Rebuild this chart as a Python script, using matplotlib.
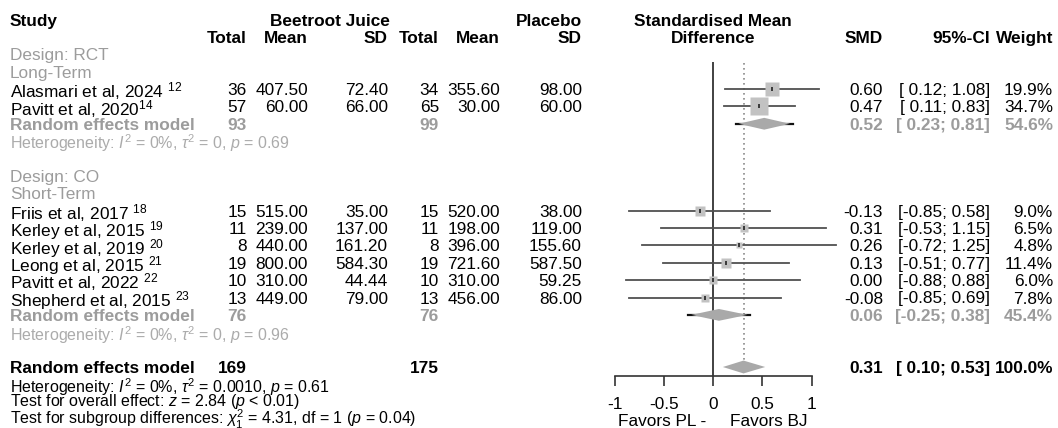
import matplotlib
matplotlib.use("Agg")
import matplotlib.pyplot as plt
from matplotlib.patches import Polygon
from matplotlib import transforms
import numpy as np

plt.rcParams['font.family'] = ['Liberation Sans', 'DejaVu Sans']
plt.rcParams['mathtext.fontset'] = 'custom'
plt.rcParams['mathtext.rm'] = 'Liberation Sans'
plt.rcParams['mathtext.it'] = 'Liberation Sans:italic'
plt.rcParams['mathtext.bf'] = 'Liberation Sans:bold'
plt.rcParams['axes.unicode_minus'] = False

# study data
studies = ["Alasmari et al, 2024 ${}^{12}$", "Pavitt et al, 2020${}^{14}$",
           "Friis et al, 2017 ${}^{18}$", "Kerley et al, 2015 ${}^{19}$",
           "Kerley et al, 2019 ${}^{20}$", "Leong et al, 2015 ${}^{21}$",
           "Pavitt et al, 2022 ${}^{22}$", "Shepherd et al, 2015 ${}^{23}$"]
group = [0, 0, 1, 1, 1, 1, 1, 1]
bj_n = [36, 57, 15, 11, 8, 19, 10, 13]
bj_mean = [407.50, 60.00, 515.00, 239.00, 440.00, 800.00, 310.00, 449.00]
bj_sd = [72.40, 66.00, 35.00, 137.00, 161.20, 584.30, 44.44, 79.00]
pl_n = [34, 65, 15, 11, 8, 19, 10, 13]
pl_mean = [355.60, 30.00, 520.00, 198.00, 396.00, 721.60, 310.00, 456.00]
pl_sd = [98.00, 60.00, 38.00, 119.00, 155.60, 587.50, 59.25, 86.00]
smd = [0.60, 0.47, -0.13, 0.31, 0.26, 0.13, 0.00, -0.08]
ci_lo = [0.12, 0.11, -0.85, -0.53, -0.72, -0.51, -0.88, -0.85]
ci_hi = [1.08, 0.83, 0.58, 1.15, 1.25, 0.77, 0.88, 0.69]
weight = [19.9, 34.7, 9.0, 6.5, 4.8, 11.4, 6.0, 7.8]

# subgroups
sub_design = ["Design: RCT", "Design: CO"]
sub_term = ["Long-Term", "Short-Term"]
sub_bj_n = [93, 76]
sub_pl_n = [99, 76]
sub_smd = [0.52, 0.06]
sub_lo = [0.23, -0.25]
sub_hi = [0.81, 0.38]
sub_w = [54.6, 45.4]
sub_het = ["0.69", "0.96"]

# overall
all_bj_n, all_pl_n = 169, 175
all_smd, all_lo, all_hi = 0.31, 0.10, 0.53
tick_vals = [-1, -0.5, 0, 0.5, 1]
tick_labels = ["-1", "-0.5", "0", "0.5", "1"]

W, H = 1058, 428
Y0, DY = 19.5, 17.375
GRAY = '#9c9c9c'
HGRAY = '#ababab'
FS, FS_SMALL = 12.4, 11.5


def ypx(r):
    return Y0 + DY * r


fig = plt.figure(figsize=(W / 100, H / 100), dpi=100)
tab = fig.add_axes([0, 0, 1, 1])
tab.set_xlim(0, W)
tab.set_ylim(H, 0)
tab.axis('off')

# forest panel
zero_px, unit = 713, 98.5
xmin, xmax = -1.25, 1.35
top_px, axis_px = 62, 376
r_top = (top_px - Y0) / DY
r_bot = (axis_px - Y0) / DY
ax = fig.add_axes([(zero_px + unit * xmin) / W, (H - axis_px) / H,
                   unit * (xmax - xmin) / W, (axis_px - top_px) / H])
ax.set_facecolor('none')
ax.set_xlim(xmin, xmax)
ax.set_ylim(r_bot, r_top)


def put(x, r, s, ha='right', size=FS, **kw):
    tab.text(x, ypx(r), s, ha=ha, va='center_baseline', fontsize=size, **kw)


cols = [247, 308, 388, 439, 500, 582, 883, 990, 1053]

# headers
put(10, 0, "Study", ha='left', weight='bold')
put(390, 0, "Beetroot Juice", weight='bold')
put(582, 0, "Placebo", weight='bold')
put(713, 0, "Standardised Mean", ha='center', weight='bold')
put(713, 1, "Difference", ha='center', weight='bold')
for x, s in zip(cols, ["Total", "Mean", "SD", "Total", "Mean", "SD", "SMD", "95%-CI", "Weight"]):
    put(x, 1, s, weight='bold')


def ci_txt(lo, hi):
    f = lambda v: ("%.2f" % v) if v < 0 else (" %.2f" % v)
    return "[%s; %.2f]" % (f(lo), hi)


row = 2
for g in range(2):
    put(10, row, sub_design[g], ha='left', color=GRAY)
    put(10, row + 1, sub_term[g], ha='left', color=GRAY)
    row += 2
    for i in range(len(studies)):
        if group[i] != g:
            continue
        put(10, row, studies[i], ha='left')
        vals = [str(bj_n[i]), "%.2f" % bj_mean[i], "%.2f" % bj_sd[i],
                str(pl_n[i]), "%.2f" % pl_mean[i], "%.2f" % pl_sd[i],
                "%.2f" % smd[i], ci_txt(ci_lo[i], ci_hi[i]), "%.1f%%" % weight[i]]
        for x, s in zip(cols, vals):
            put(x, row, s)
        ax.plot([ci_lo[i], ci_hi[i]], [row, row], color='#505050', lw=1.3, zorder=2)
        side = 3.05 * np.sqrt(weight[i]) * 0.72
        ax.plot(smd[i], row, marker='s', ms=side, mfc='#c2c2c2', mec='none', zorder=3)
        ax.plot(smd[i], row, marker='|', ms=3, color='#222222', mew=1.2, zorder=4)
        row += 1
    put(10, row, "Random effects model", ha='left', weight='bold', color=GRAY)
    put(cols[0], row, str(sub_bj_n[g]), weight='bold', color=GRAY)
    put(cols[3], row, str(sub_pl_n[g]), weight='bold', color=GRAY)
    put(cols[6], row, "%.2f" % sub_smd[g], weight='bold', color=GRAY)
    put(cols[7], row, ci_txt(sub_lo[g], sub_hi[g]), weight='bold', color=GRAY)
    put(cols[8], row, "%.1f%%" % sub_w[g], weight='bold', color=GRAY)
    ax.plot([sub_lo[g], sub_hi[g]], [row, row], color='#111111', lw=1.6, zorder=2)
    h = 0.34
    ax.add_patch(Polygon([(sub_lo[g] + 0.03, row), (sub_smd[g], row - h),
                          (sub_hi[g] - 0.03, row), (sub_smd[g], row + h)],
                         closed=True, fc='#a9a9a9', ec='none', zorder=3))
    put(10, row + 1, r"Heterogeneity: $I^2$ = 0%, $\tau^2$ = 0, $p$ = " + sub_het[g],
        ha='left', size=FS_SMALL, color=HGRAY)
    row += 3

# overall
row = 20
put(10, row, "Random effects model", ha='left', weight='bold')
put(cols[0], row, str(all_bj_n), weight='bold')
put(cols[3], row, str(all_pl_n), weight='bold')
put(cols[6], row, "%.2f" % all_smd, weight='bold')
put(cols[7], row, ci_txt(all_lo, all_hi), weight='bold')
put(cols[8], row, "100.0%", weight='bold')
h = 0.37
ax.add_patch(Polygon([(all_lo, row), (all_smd, row - h), (all_hi, row), (all_smd, row + h)],
                     closed=True, fc='#a9a9a9', ec='none', zorder=3))
put(10, 21, r"Heterogeneity: $I^2$ = 0%, $\tau^2$ = 0.0010, $p$ = 0.61", ha='left', size=FS_SMALL)
put(10, 21.85, r"Test for overall effect: $z$ = 2.84 ($p$ < 0.01)", ha='left', size=FS_SMALL)
put(10, 22.8, r"Test for subgroup differences: $\chi^2_1$ = 4.31, df = 1 ($p$ = 0.04)",
    ha='left', size=FS_SMALL)

# reference lines
ax.axvline(0, color='#333333', lw=1.3, zorder=1)
ax.plot([all_smd, all_smd], [r_top + 0.05, row - h], color='#8a8a8a', lw=1.2,
        ls=(0, (1, 2)), zorder=1)

for s in ['top', 'right', 'left']:
    ax.spines[s].set_visible(False)
ax.spines['bottom'].set_bounds(-1, 1)
ax.spines['bottom'].set_linewidth(1.2)
ax.spines['bottom'].set_color('#333333')
ax.set_yticks([])
ax.set_xticks(tick_vals)
ax.set_xticklabels(tick_labels, fontsize=FS)
ax.tick_params(axis='x', length=7, width=1.2, color='#333333', pad=8)

blend = transforms.blended_transform_factory(ax.transData, tab.transData)
tab.text(-0.02, 420, "Favors PL - ", transform=blend, ha='right', va='center_baseline', fontsize=FS)
tab.text(0.17, 420, "Favors BJ", transform=blend, ha='left', va='center_baseline', fontsize=FS)

fig.savefig("out.png", dpi=100)
